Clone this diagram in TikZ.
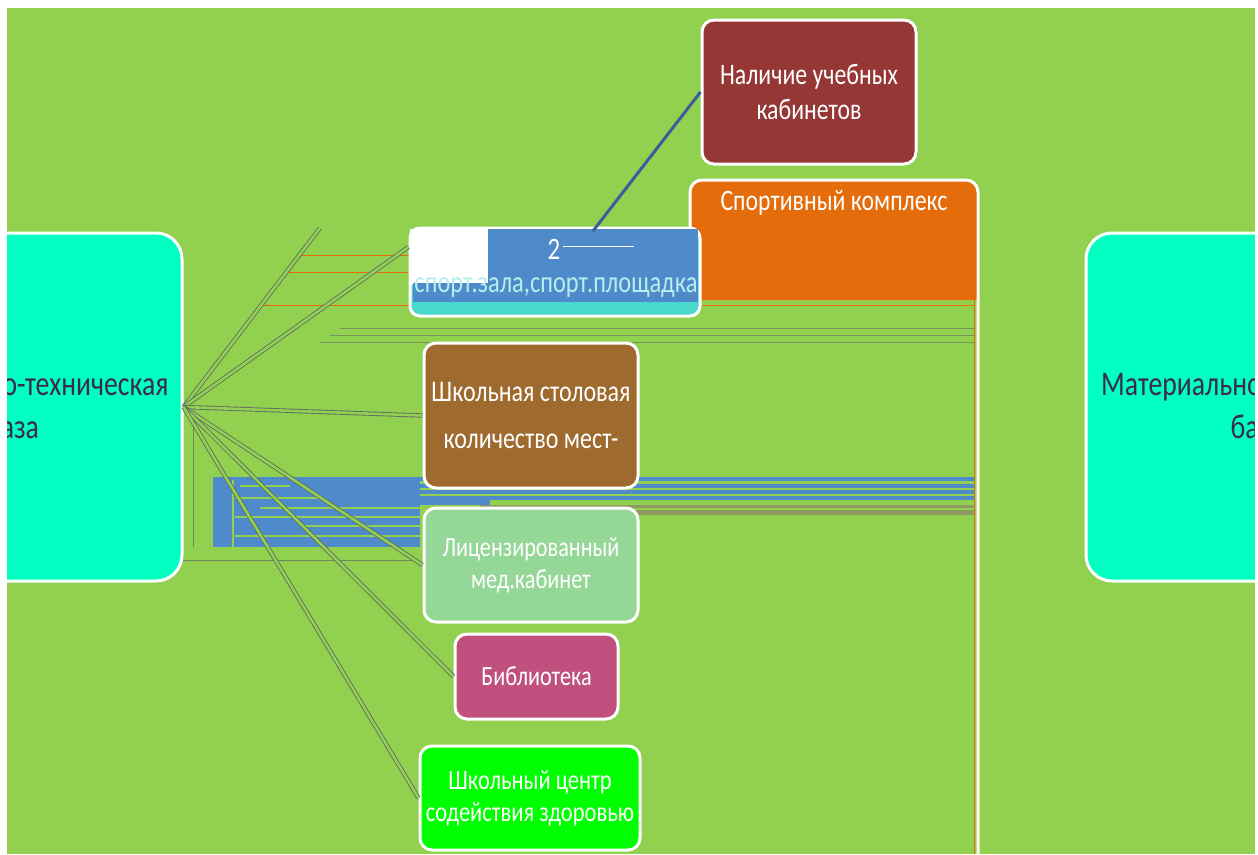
\documentclass[tikz,border=0pt]{standalone}
\usepackage{fontspec}
\usepackage{graphicx}
\setmainfont{Carlito}
\usetikzlibrary{calc}
\definecolor{bggreen}{HTML}{92D050}
\definecolor{tealbox}{HTML}{00FFC0}
\definecolor{nalred}{HTML}{953735}
\definecolor{orangeC}{HTML}{E46C0A}
\definecolor{blueC}{HTML}{4F8BCB}
\definecolor{brownC}{HTML}{9E6A2E}
\definecolor{medC}{HTML}{95D796}
\definecolor{libC}{HTML}{C0507E}
\definecolor{hcC}{HTML}{00FF00}
\definecolor{lineC}{HTML}{5F6B66}
\definecolor{txtC}{HTML}{3A2C4A}
\definecolor{teal2}{HTML}{48D8CC}
\definecolor{navyline}{HTML}{3D5C98}
\definecolor{oliveC}{HTML}{8E9A62}
\newcommand{\vs}[1]{\scalebox{1}[1.25]{#1}}
\begin{document}
\begin{tikzpicture}[x=1pt,y=-1pt,
  box/.style={draw=white, line width=3pt, rounded corners=12pt, text=white, align=center, inner sep=0pt},
  bigbox/.style={draw=white, line width=3pt, rounded corners=26pt, fill=tealbox, inner sep=0pt},
  bigtext/.style={text=txtC, align=center, inner sep=0pt, font=\fontsize{27.7}{43}\selectfont},
  conn/.style={draw=lineC, double=bggreen, double distance=2.6pt, line width=0.85pt},
  glitch/.style={fill=blueC},
  stripe/.style={draw=bggreen, line width=1.2pt}
]
\useasboundingbox (0,0) rectangle (1258,854);
\clip (0,0) rectangle (1258,854);
\fill[bggreen] (0,0) rectangle (1258,854);

% glitch band
\fill[glitch] (213,477) rectangle (975,481);
\fill[glitch] (290,484) rectangle (975,500);
\draw[stripe] (290,489) -- (975,489);
\draw[stripe] (400,495) -- (975,495);
\fill[glitch] (320,500) rectangle (490,505);
\fill[oliveC] (480,505) rectangle (975,515);
\draw[stripe] (480,509) -- (975,509);
\fill[glitch] (213,477) rectangle (420,547);
\draw[stripe] (240,486) -- (290,486);
\draw[stripe] (235,498) -- (320,498);
\draw[stripe] (260,508) -- (420,508);
\draw[stripe] (235,517) -- (420,517);
\draw[stripe] (300,526) -- (420,526);
\draw[stripe] (235,536) -- (420,536);
\draw[stripe] (233,480) -- (233,547);

% thin glitch lines
\draw[orangeC, line width=1pt] (300,255) -- (410,255);
\draw[orangeC, line width=1pt] (288,272) -- (410,272);
\draw[orangeC, line width=1pt] (263,305) -- (975,305);
\draw[lineC!60!bggreen, line width=0.8pt] (340,328) -- (975,328);
\draw[lineC!60!bggreen, line width=0.8pt] (330,335) -- (975,335);
\draw[lineC!60!bggreen, line width=0.8pt] (320,342) -- (975,342);
\draw[lineC!70!bggreen, line width=0.8pt] (193,418) -- (193,547);
\draw[lineC!70!bggreen, line width=0.8pt] (183,560) -- (420,560);

% big boxes
\node[bigbox, minimum width=316, minimum height=348] (lb) at (24,407) {};
\node[bigtext] (lbt) at (12.5,406) {\vs{Материально-техническая}\\\vs{база}};
\node[bigbox, minimum width=316, minimum height=348] (rb) at (1244,407) {};
\node[bigtext] (rbt) at (1257,406) {\vs{Материально-техническая}\\\vs{база}};

% sports complex
\fill[orangeC] (690,300) -- (690,192) arc[start angle=180, end angle=270, radius=12] -- (966,180) arc[start angle=270, end angle=360, radius=12] -- (978,300) -- cycle;
\draw[white, line width=3pt, rounded corners=12pt] (690,300) -- (690,180) -- (978,180) -- (978,854);
\draw[orangeC, line width=1.2pt] (974.5,300) -- (974.5,854);
\node[text=white, font=\fontsize{23.8}{30}\selectfont] (spc) at (834,203) {\vs{Спортивный комплекс}};

% 2 sports halls box
\node[draw=white, line width=3pt, fill=teal2, rounded corners=10pt, minimum width=290, minimum height=88, inner sep=0pt] (sp) at (555,272) {};
\fill[white] (410,229) rectangle (488,285);
\fill[blueC] (488,229) rectangle (698,283);
\fill[blueC] (413,283) rectangle (698,302);
\node[text=white, font=\fontsize{25}{28}\selectfont] (two) at (554,249) {\vs{2}};
\draw[white, line width=1pt] (563,246) -- (634,246);
\node[text=teal2!40!white, font=\fontsize{24.4}{28}\selectfont, inner sep=0pt] (spt) at (556,288) {\vs{спорт.зала,спорт.площадка}};

% other boxes
\node[box, fill=nalred, minimum width=214, minimum height=144, font=\fontsize{23.8}{35}\selectfont] (nal) at (809,92) {\vs{Наличие учебных}\\\vs{кабинетов}};
\node[box, fill=brownC, minimum width=214, minimum height=145, font=\fontsize{24}{47}\selectfont] (can) at (531,415.5) {\vs{Школьная столовая}\\\vs{количество мест-}};
\node[box, fill=medC, minimum width=214, minimum height=114, font=\fontsize{22.2}{32}\selectfont] (med) at (531,565) {\vs{Лицензированный}\\\vs{мед.кабинет}};
\node[box, fill=libC, minimum width=163, minimum height=85, font=\fontsize{22.2}{30}\selectfont] (lib) at (536.5,676.5) {\vs{Библиотека}};
\node[box, fill=hcC, minimum width=220, minimum height=104, font=\fontsize{22.5}{32}\selectfont] (hc) at (530,798) {\vs{Школьный центр}\\\vs{содействия здоровью}};

% connectors
\coordinate (up) at (320,228);
\coordinate (spa) at (593,231);
\draw[conn] (lb.east) -- (up);
\draw[conn] (lb.east) -- (sp.west |- 0,247);
\draw[conn] (lb.east) -- (can.west);
\draw[conn] (lb.east) -- (med.west);
\draw[conn] (lb.east) -- (lib.west);
\draw[conn] (lb.east) -- (hc.west);
\draw[navyline, line width=3pt] (spa) -- (nal.west);

% white margins
\fill[white] (0,0) rectangle (7,854);
\fill[white] (0,0) rectangle (1258,8);
\fill[white] (1255,0) rectangle (1258,854);
\end{tikzpicture}
\end{document}
